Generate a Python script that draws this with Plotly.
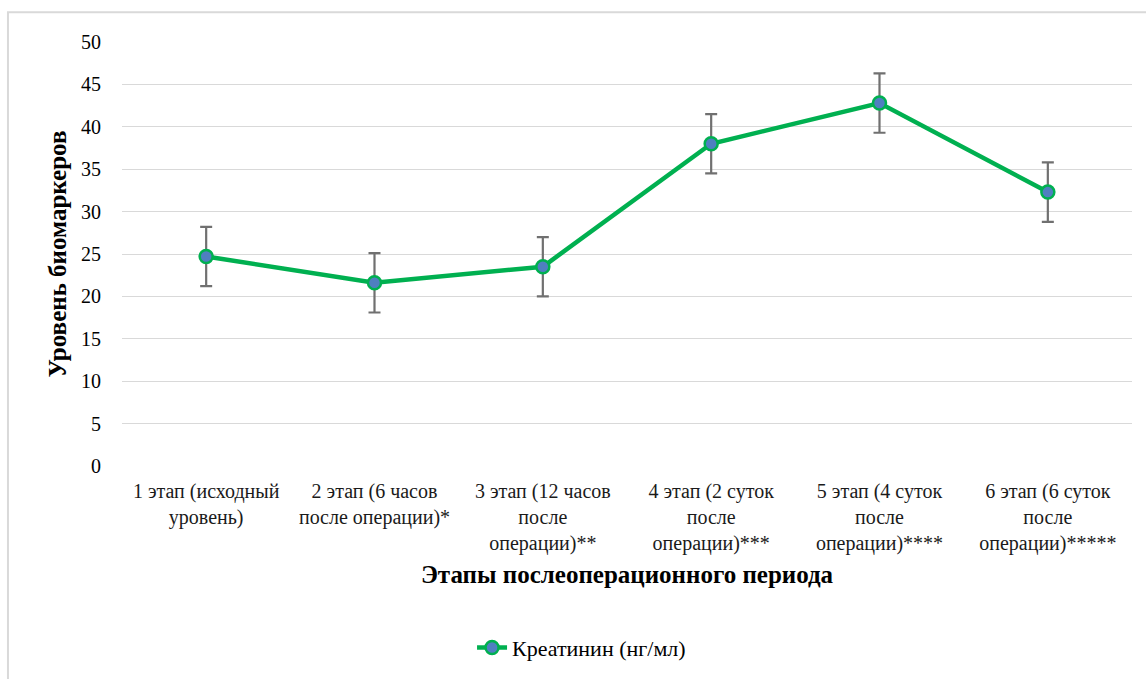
import plotly.graph_objects as go

# Этапы и средние значения креатинина с погрешностью
stages = [
    "1 этап (исходный<br>уровень)",
    "2 этап (6 часов<br>после операции)*",
    "3 этап (12 часов<br>после<br>операции)**",
    "4 этап (2 суток<br>после<br>операции)***",
    "5 этап (4 суток<br>после<br>операции)****",
    "6 этап (6 суток<br>после<br>операции)*****",
]
creatinine = [24.7, 21.6, 23.5, 38.0, 42.8, 32.3]
creatinine_err = [3.5, 3.5, 3.5, 3.5, 3.5, 3.5]
y_ticks = [0, 5, 10, 15, 20, 25, 30, 35, 40, 45, 50]

SERIF = "Liberation Serif"

fig = go.Figure()
fig.add_trace(go.Scatter(
    x=stages,
    y=creatinine,
    mode="lines+markers",
    name="Креатинин (нг/мл)",
    line=dict(color="#00b050", width=4.5),
    marker=dict(size=13, color="#4f7fc0", line=dict(color="#00b050", width=2.5)),
    error_y=dict(type="data", array=creatinine_err, visible=True,
                 color="#707070", thickness=2.2, width=6),
))

fig.update_layout(
    width=1146, height=679,
    margin=dict(l=122, r=14, t=42, b=212),
    paper_bgcolor="white",
    plot_bgcolor="white",
    showlegend=True,
    legend=dict(orientation="h", x=0.455, y=-0.425, xanchor="center", yanchor="middle",
                font=dict(family=SERIF, size=22, color="#000000")),
    xaxis=dict(
        type="category",
        showgrid=False, showline=False, zeroline=False,
        tickfont=dict(family=SERIF, size=20, color="#1a1a1a"),
        ticks="", range=[-0.5, 5.5],
        ticklabelstandoff=11,
        title=dict(text="<b>Этапы послеоперационного периода</b>",
                   font=dict(family=SERIF, size=25, color="#000000"), standoff=11),
    ),
    yaxis=dict(
        range=[0, 50], tickvals=y_ticks,
        showgrid=True, gridcolor="#d9d9d9", gridwidth=1.3,
        zeroline=False, showline=False,
        tickfont=dict(family=SERIF, size=20, color="#000000"),
        ticklabelstandoff=20,
        title=dict(text="<b>Уровень биомаркеров</b>",
                   font=dict(family=SERIF, size=25, color="#000000"), standoff=7),
    ),
    shapes=[dict(type="rect", xref="paper", yref="paper",
                 x0=-0.1129, x1=1.02, y0=-0.6, y1=1.0703,
                 line=dict(color="#d9d9d9", width=2), fillcolor="rgba(0,0,0,0)",
                 layer="below")],
)

fig.write_html("out.html")
